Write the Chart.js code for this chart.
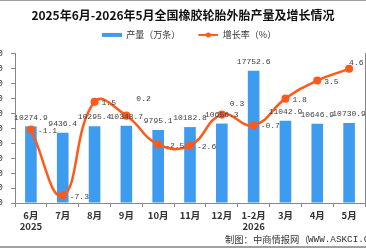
<!DOCTYPE html>
<html>
<head>
<meta charset="utf-8">
<script src="https://cdn.jsdelivr.net/npm/chart.js@4"></script>
<style>
  html, body { margin: 0; padding: 0; background: #fff; overflow: hidden; }
  #wrap { position: absolute; left: -30px; top: 0; width: 426px; height: 248px; }
</style>
</head>
<body>
<div id="wrap"><canvas id="myChart" width="426" height="248"></canvas></div>
<script>
const months = [['6月', '2025'], '7月', '8月', '9月', '10月', '11月', '12月', ['1-2月', '2026'], '3月', '4月', '5月'];
const output = [10274.9, 9436.4, 10295.4, 10348.7, 9795.1, 10182.8, 10656.3, 17752.6, 11042.9, 10646.9, 10730.9];
const growth = [-1.1, -7.3, 1.5, 0.2, -2.5, -2.6, 0.3, -0.7, 1.8, 3.5, 4.6];
const outputTicks = [0, 20000, 2000];
const growthTicks = [-8, 6];

const OFF = 30; // canvas is shifted left so the axis labels fall outside the window
const CJK = '"Noto Sans CJK SC", sans-serif';
const MONO = '"Liberation Mono", monospace';

// legend swatches (12px of empty space in front of each one)
function swatch(kind) {
    const c = document.createElement('canvas');
    c.width = 32; c.height = 8;
    const g = c.getContext('2d');
    if (kind === 'bar') {
        g.fillStyle = '#3d9bf0';
        g.fillRect(12, 2, 20, 4);
    } else {
        g.strokeStyle = '#ff5a1a';
        g.lineWidth = 2;
        g.beginPath(); g.moveTo(12, 4); g.lineTo(32, 4); g.stroke();
        g.fillStyle = '#ff5a1a';
        g.beginPath(); g.arc(22, 4, 2.6, 0, Math.PI * 2); g.fill();
    }
    return c;
}

// value labels + footer
const labelPlugin = {
    id: 'labels',
    afterDatasetsDraw(chart) {
        const ctx = chart.ctx;
        ctx.save();
        ctx.font = '8px ' + MONO;
        ctx.fillStyle = '#404040';
        ctx.textBaseline = 'middle';
        ctx.textAlign = 'center';
        chart.getDatasetMeta(0).data.forEach((el, i) => {
            ctx.fillText(output[i].toFixed(1), el.x, el.y - 9);
        });
        ctx.textAlign = 'left';
        const shift = { 3: [10, -17], 6: [8, -11], 10: [0, -6] };
        chart.getDatasetMeta(1).data.forEach((el, i) => {
            const d = shift[i] || [7, 1];
            ctx.fillText(growth[i].toFixed(1), el.x + d[0], el.y + d[1]);
        });
        ctx.restore();
    },
    afterDraw(chart) {
        const ctx = chart.ctx;
        ctx.save();
        ctx.fillStyle = '#a0a0a0';
        ctx.fillRect(0, 0, chart.width, 1);
        ctx.fillRect(0, 246, chart.width, 2);
        ctx.fillStyle = '#333';
        ctx.textBaseline = 'middle';
        ctx.font = '9.3px ' + CJK;
        ctx.fillText('制图：中商情报网（', 225 + OFF, 239);
        ctx.font = '9.3px ' + MONO;
        ctx.fillText('WWW.ASKCI.COM）', 308 + OFF, 239.5);
        ctx.restore();
    }
};

new Chart(document.getElementById('myChart'), {
    data: {
        labels: months,
        datasets: [{
            type: 'bar',
            label: '产量（万条）',
            data: output,
            backgroundColor: '#3d9bf0',
            barPercentage: 0.365,
            categoryPercentage: 1,
            yAxisID: 'y',
            order: 2
        }, {
            type: 'line',
            label: '增长率（%）',
            data: growth,
            borderColor: '#ff5a1a',
            backgroundColor: '#ff5a1a',
            borderWidth: 2.5,
            pointRadius: 2.8,
            pointHoverRadius: 2.8,
            tension: 0.45,
            yAxisID: 'y1',
            order: 1
        }]
    },
    options: {
        responsive: false,
        animation: false,
        devicePixelRatio: 1,
        layout: { padding: 0 },
        plugins: {
            title: {
                display: true,
                text: '2025年6月-2026年5月全国橡胶轮胎外胎产量及增长情况',
                color: '#111',
                font: { family: CJK, size: 12, weight: 'bold' },
                padding: { top: 8, bottom: 2 }
            },
            // empty spacer between legend and plot
            subtitle: {
                display: true,
                text: '',
                font: { size: 4.5, lineHeight: 1 },
                padding: 0
            },
            legend: {
                weight: 1600,
                labels: {
                    usePointStyle: true,
                    pointStyleWidth: 32,
                    padding: 6,
                    color: '#333',
                    font: { family: CJK, size: 9 },
                    generateLabels(chart) {
                        return chart.data.datasets.map((ds, i) => ({
                            text: ds.label,
                            pointStyle: swatch(i === 0 ? 'bar' : 'line'),
                            datasetIndex: i,
                            lineWidth: 0,
                            fontColor: '#333'
                        }));
                    }
                }
            },
            tooltip: { enabled: false }
        },
        scales: {
            x: {
                grid: { drawOnChartArea: false, tickLength: 4, color: '#888' },
                border: { color: '#888' },
                ticks: {
                    color: '#333',
                    font: { family: CJK, size: 9.5, weight: 'bold', lineHeight: 1.15 },
                    padding: 3,
                    maxRotation: 0,
                    autoSkip: false
                },
                afterFit(s) { s.height = 45; }
            },
            y: {
                position: 'left',
                min: outputTicks[0],
                max: outputTicks[1],
                grid: { drawOnChartArea: false, tickLength: 4, color: '#888' },
                border: { color: '#888' },
                ticks: {
                    stepSize: outputTicks[2],
                    color: '#333',
                    font: { family: MONO, size: 9 },
                    padding: 8
                },
                afterFit(s) { s.width = 45; }
            },
            y1: {
                position: 'right',
                min: growthTicks[0],
                max: growthTicks[1],
                grid: { drawOnChartArea: false, tickLength: 4, color: '#888' },
                border: { color: '#888' },
                ticks: { color: '#333', font: { family: MONO, size: 9 } },
                afterFit(s) { s.width = 31; }
            }
        }
    },
    plugins: [labelPlugin]
});
</script>
</body>
</html>
